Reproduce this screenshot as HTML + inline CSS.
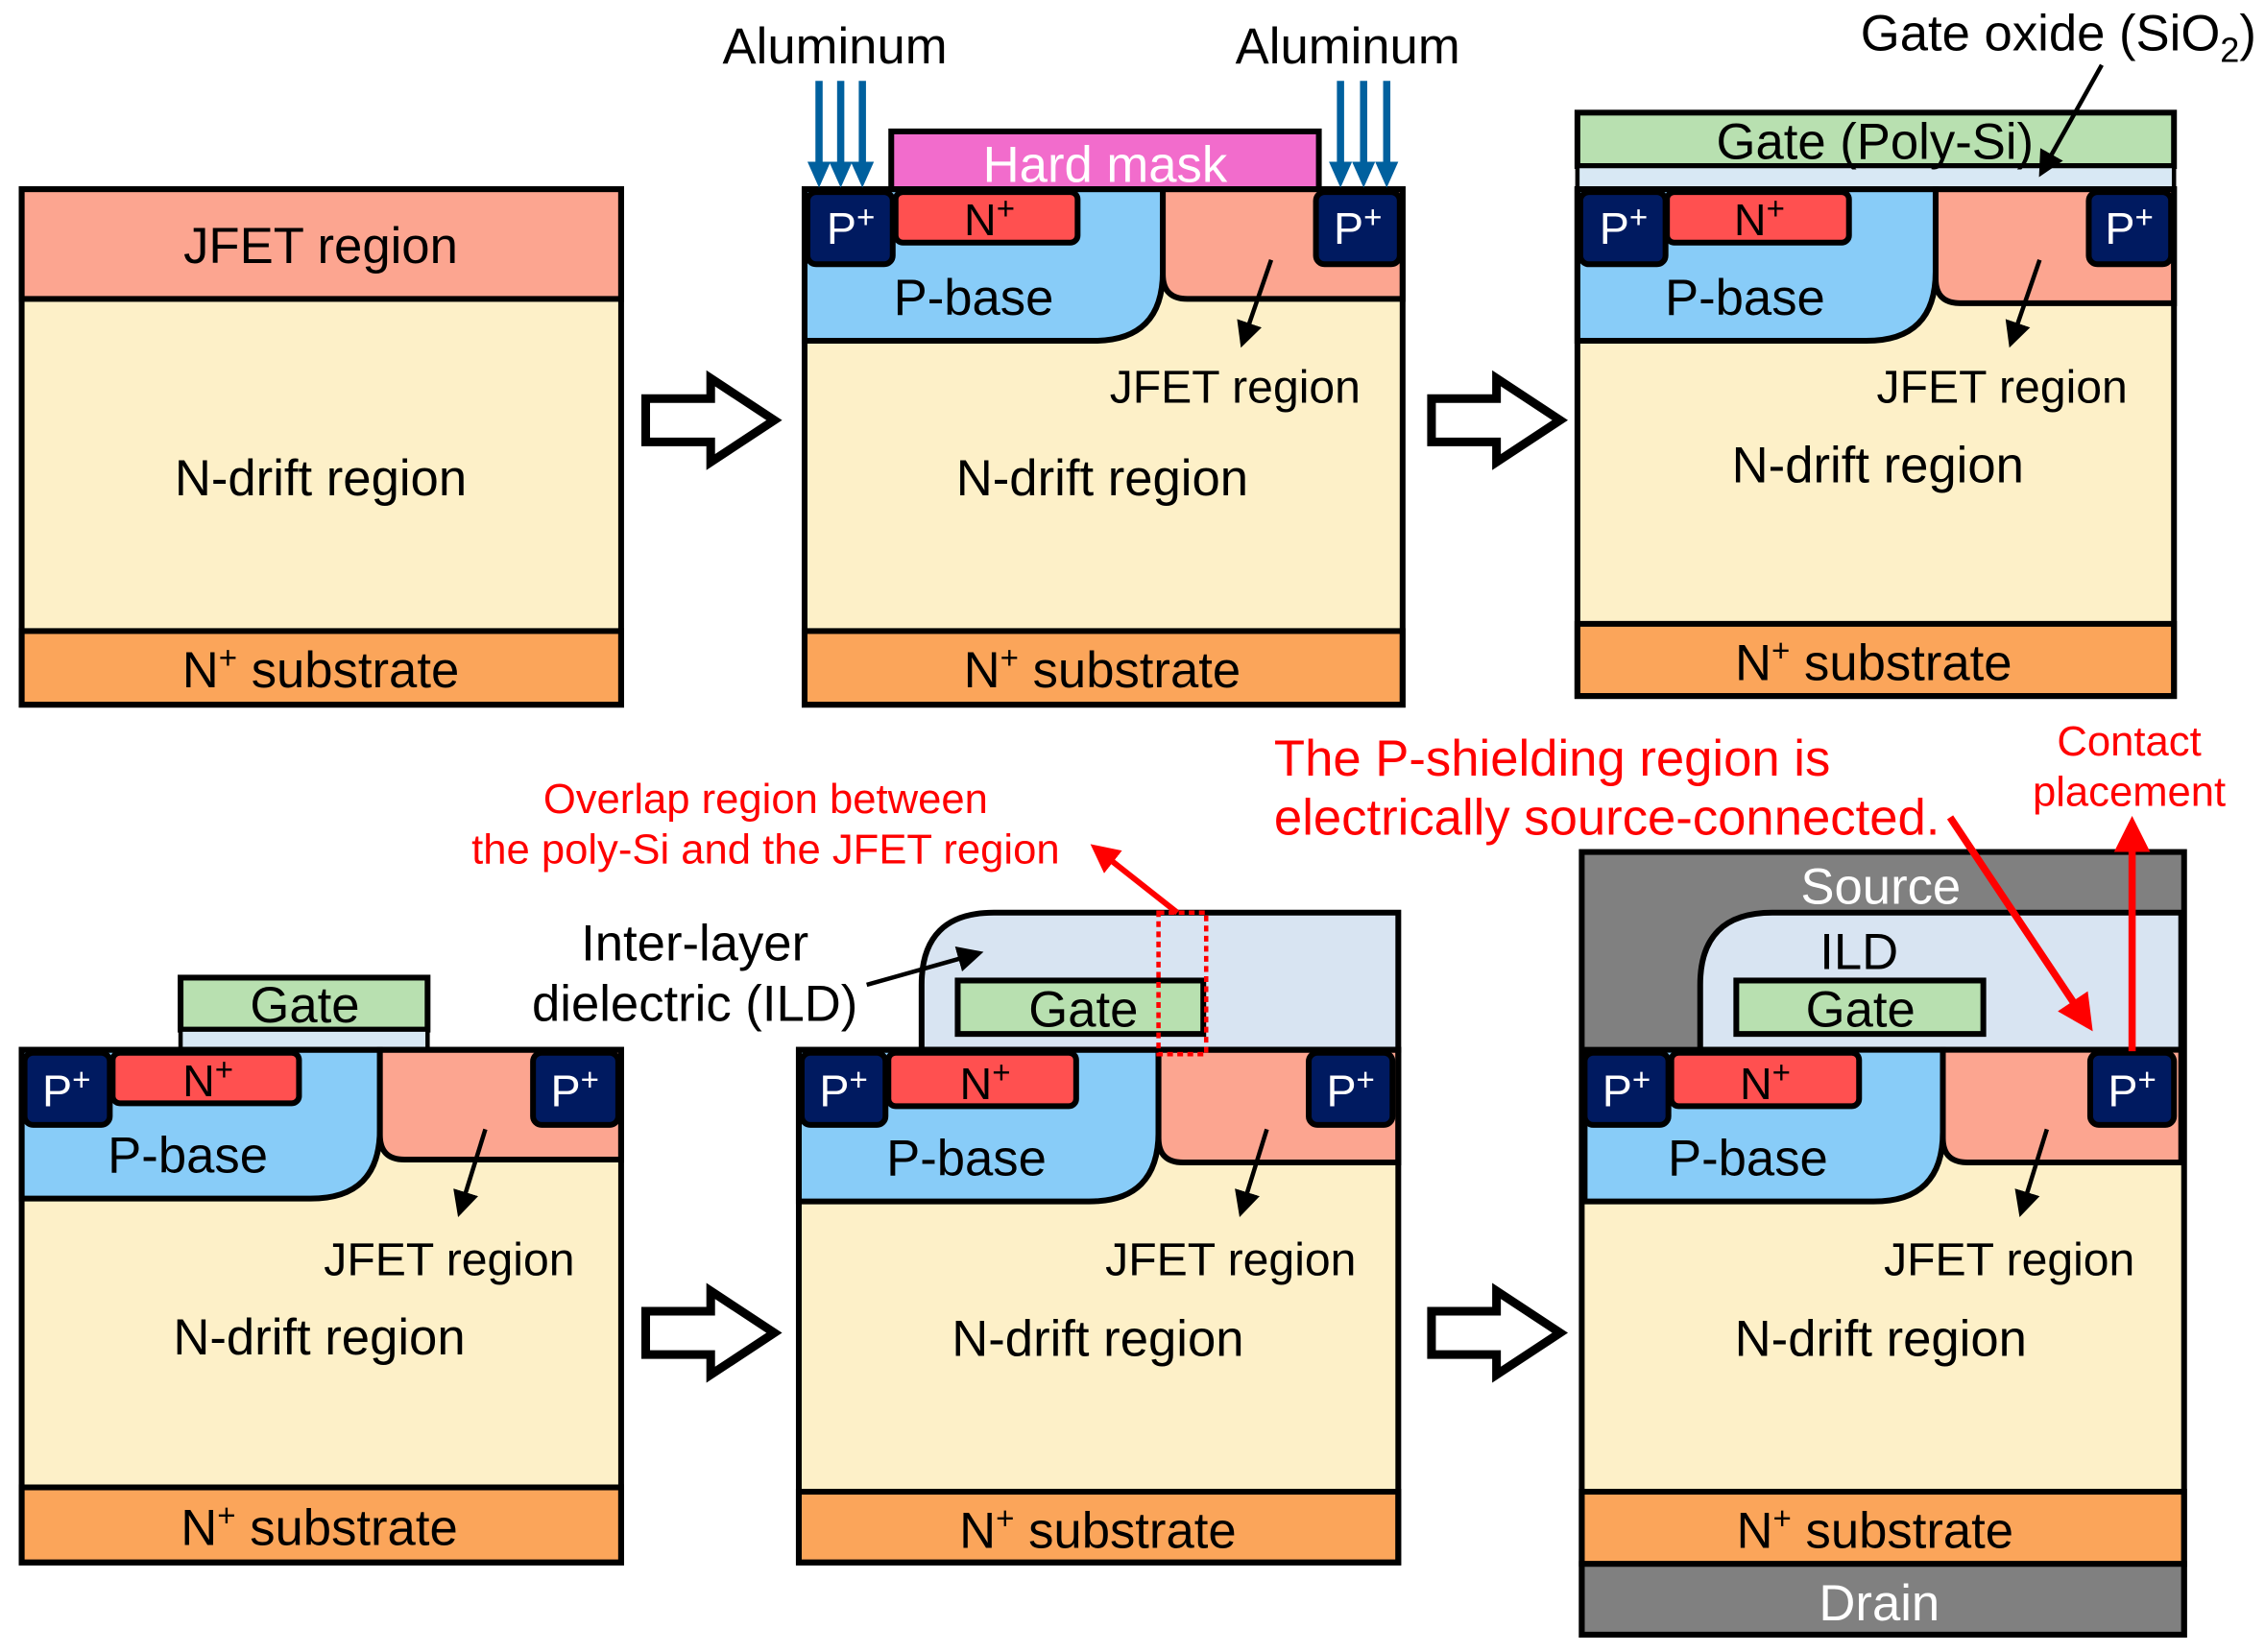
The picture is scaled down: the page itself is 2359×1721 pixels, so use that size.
<!DOCTYPE html>
<html><head><meta charset="utf-8"><style>
html,body{margin:0;padding:0;background:#fff;}
svg{display:block;}
text{font-family:"Liberation Sans",Arial,sans-serif;}
</style></head><body>
<svg width="2359" height="1721" viewBox="0 0 1568 1144" preserveAspectRatio="none" xmlns="http://www.w3.org/2000/svg">
<defs>
<marker id="ab" markerWidth="6" markerHeight="6" refX="5" refY="3" orient="auto" markerUnits="strokeWidth"><path d="M0,0 L6,3 L0,6 Z" fill="#000"/></marker>
<marker id="ar" markerWidth="5" markerHeight="5" refX="4" refY="2.5" orient="auto" markerUnits="strokeWidth"><path d="M0,0 L5,2.5 L0,5 Z" fill="#f00"/></marker>
</defs>
<rect width="1568" height="1144" fill="#fff"/>

<!-- Panel 1 -->
<rect x="15" y="131" width="415" height="357" fill="#fdf0c8"/>
<rect x="15" y="131" width="415" height="76" fill="#fca590" stroke="#000" stroke-width="4"/>
<rect x="15" y="437" width="415" height="51" fill="#fba55a" stroke="#000" stroke-width="4"/>
<rect x="15" y="131" width="415" height="357" fill="none" stroke="#000" stroke-width="4"/>
<text x="222" y="182" font-size="35" text-anchor="middle">JFET region</text>
<text x="222" y="343" font-size="35" text-anchor="middle">N-drift region</text>
<text x="222" y="476" font-size="35" text-anchor="middle">N<tspan dy="-13" font-size="22">+</tspan><tspan dy="13"> substrate</tspan></text>

<!-- hollow arrows -->
<g fill="#fff" stroke="#000" stroke-width="6" stroke-linejoin="miter">
<path d="M447,276 H492 V262 L536,291 L492,320 V306 H447 Z"/>
<path d="M991,276 H1036 V262 L1080,291 L1036,320 V306 H991 Z"/>
<path d="M447,908 H492 V894 L536,923 L492,952 V938 H447 Z"/>
<path d="M991,908 H1036 V894 L1080,923 L1036,952 V938 H991 Z"/>
</g>

<!-- Panel 2 -->
<rect x="617" y="91" width="296" height="40" fill="#f26ccc" stroke="#000" stroke-width="4"/>
<text x="765" y="126" font-size="35" fill="#fff" text-anchor="middle">Hard mask</text>
<rect x="557" y="131" width="414" height="357" fill="#fdf0c8"/>
<path d="M557,131 H805 V188 Q805,236 757,236 H557 Z" fill="#88ccf8" stroke="#000" stroke-width="4"/>
<path d="M805,131 H971 V207 H822 Q805,207 805,190 Z" fill="#fca590" stroke="#000" stroke-width="4"/>
<rect x="620" y="133" width="126" height="35" rx="5" fill="#ff5050" stroke="#000" stroke-width="4"/>
<rect x="559" y="133" width="59" height="50" rx="6" fill="#001a60" stroke="#000" stroke-width="4"/>
<rect x="911" y="133" width="58" height="50" rx="6" fill="#001a60" stroke="#000" stroke-width="4"/>
<rect x="557" y="437" width="414" height="51" fill="#fba55a" stroke="#000" stroke-width="4"/>
<rect x="557" y="131" width="414" height="357" fill="none" stroke="#000" stroke-width="4"/>
<text x="589" y="169" font-size="31" fill="#fff" text-anchor="middle">P<tspan dy="-11" font-size="22">+</tspan></text>
<text x="940" y="169" font-size="31" fill="#fff" text-anchor="middle">P<tspan dy="-11" font-size="22">+</tspan></text>
<text x="685" y="163" font-size="31" text-anchor="middle">N<tspan dy="-11" font-size="22">+</tspan></text>
<text x="674" y="218" font-size="35" text-anchor="middle">P-base</text>
<line x1="880" y1="180" x2="860" y2="238" stroke="#000" stroke-width="3" marker-end="url(#ab)"/>
<text x="855" y="279" font-size="32" text-anchor="middle">JFET region</text>
<text x="763" y="343" font-size="35" text-anchor="middle">N-drift region</text>
<text x="763" y="476" font-size="35" text-anchor="middle">N<tspan dy="-13" font-size="22">+</tspan><tspan dy="13"> substrate</tspan></text>
<g stroke="#00609e" stroke-width="5">
<line x1="567" y1="56" x2="567" y2="115"/><line x1="582" y1="56" x2="582" y2="115"/><line x1="597" y1="56" x2="597" y2="115"/>
<line x1="928" y1="56" x2="928" y2="115"/><line x1="944" y1="56" x2="944" y2="115"/><line x1="960" y1="56" x2="960" y2="115"/>
</g>
<g fill="#00609e">
<path d="M559,112 H575 L567,130 Z"/><path d="M574,112 H590 L582,130 Z"/><path d="M589,112 H605 L597,130 Z"/>
<path d="M920,112 H936 L928,130 Z"/><path d="M936,112 H952 L944,130 Z"/><path d="M952,112 H968 L960,130 Z"/>
</g>
<text x="578" y="44" font-size="35" text-anchor="middle">Aluminum</text>
<text x="933" y="44" font-size="35" text-anchor="middle">Aluminum</text>

<!-- Panel 3 -->
<rect x="1092" y="78" width="413" height="37" fill="#b8e0b0" stroke="#000" stroke-width="4"/>
<rect x="1092" y="115" width="413" height="16" fill="#d8e8f4" stroke="#000" stroke-width="3"/>
<text x="1298" y="110" font-size="35" text-anchor="middle">Gate (Poly-Si)</text>
<rect x="1092" y="131" width="413" height="351" fill="#fdf0c8"/>
<path d="M1092,131 H1340 V188 Q1340,236 1292,236 H1092 Z" fill="#88ccf8" stroke="#000" stroke-width="4"/>
<path d="M1340,131 H1505 V210 H1357 Q1340,210 1340,193 Z" fill="#fca590" stroke="#000" stroke-width="4"/>
<rect x="1154" y="133" width="126" height="35" rx="5" fill="#ff5050" stroke="#000" stroke-width="4"/>
<rect x="1094" y="133" width="59" height="50" rx="6" fill="#001a60" stroke="#000" stroke-width="4"/>
<rect x="1446" y="133" width="57" height="50" rx="6" fill="#001a60" stroke="#000" stroke-width="4"/>
<rect x="1092" y="432" width="413" height="50" fill="#fba55a" stroke="#000" stroke-width="4"/>
<rect x="1092" y="131" width="413" height="351" fill="none" stroke="#000" stroke-width="4"/>
<text x="1124" y="169" font-size="31" fill="#fff" text-anchor="middle">P<tspan dy="-11" font-size="22">+</tspan></text>
<text x="1474" y="169" font-size="31" fill="#fff" text-anchor="middle">P<tspan dy="-11" font-size="22">+</tspan></text>
<text x="1218" y="163" font-size="31" text-anchor="middle">N<tspan dy="-11" font-size="22">+</tspan></text>
<text x="1208" y="218" font-size="35" text-anchor="middle">P-base</text>
<line x1="1412" y1="180" x2="1392" y2="238" stroke="#000" stroke-width="3" marker-end="url(#ab)"/>
<text x="1386" y="279" font-size="32" text-anchor="middle">JFET region</text>
<text x="1300" y="334" font-size="35" text-anchor="middle">N-drift region</text>
<text x="1297" y="471" font-size="35" text-anchor="middle">N<tspan dy="-13" font-size="22">+</tspan><tspan dy="13"> substrate</tspan></text>
<line x1="1455" y1="45" x2="1413" y2="120" stroke="#000" stroke-width="3" marker-end="url(#ab)"/>
<text x="1425" y="35" font-size="35" text-anchor="middle">Gate oxide (SiO<tspan dy="8" font-size="24">2</tspan><tspan dy="-8">)</tspan></text>

<!-- Panel 4 -->
<rect x="125" y="677" width="171" height="36" fill="#b8e0b0" stroke="#000" stroke-width="4"/>
<rect x="125" y="713" width="171" height="14" fill="#d8e8f4" stroke="#000" stroke-width="3"/>
<text x="211" y="708" font-size="35" text-anchor="middle">Gate</text>
<rect x="15" y="727" width="415" height="355" fill="#fdf0c8"/>
<path d="M15,727 H263 V782 Q263,830 215,830 H15 Z" fill="#88ccf8" stroke="#000" stroke-width="4"/>
<path d="M263,727 H430 V803 H280 Q263,803 263,786 Z" fill="#fca590" stroke="#000" stroke-width="4"/>
<rect x="78" y="729" width="129" height="35" rx="5" fill="#ff5050" stroke="#000" stroke-width="4"/>
<rect x="17" y="729" width="59" height="50" rx="6" fill="#001a60" stroke="#000" stroke-width="4"/>
<rect x="369" y="729" width="59" height="50" rx="6" fill="#001a60" stroke="#000" stroke-width="4"/>
<rect x="15" y="1030" width="415" height="52" fill="#fba55a" stroke="#000" stroke-width="4"/>
<rect x="15" y="727" width="415" height="355" fill="none" stroke="#000" stroke-width="4"/>
<text x="46" y="766" font-size="31" fill="#fff" text-anchor="middle">P<tspan dy="-11" font-size="22">+</tspan></text>
<text x="398" y="766" font-size="31" fill="#fff" text-anchor="middle">P<tspan dy="-11" font-size="22">+</tspan></text>
<text x="144" y="759" font-size="31" text-anchor="middle">N<tspan dy="-11" font-size="22">+</tspan></text>
<text x="130" y="812" font-size="35" text-anchor="middle">P-base</text>
<line x1="336" y1="782" x2="318" y2="840" stroke="#000" stroke-width="3" marker-end="url(#ab)"/>
<text x="311" y="883" font-size="32" text-anchor="middle">JFET region</text>
<text x="221" y="938" font-size="35" text-anchor="middle">N-drift region</text>
<text x="221" y="1070" font-size="35" text-anchor="middle">N<tspan dy="-13" font-size="22">+</tspan><tspan dy="13"> substrate</tspan></text>

<!-- Panel 5 -->
<path d="M638,727 V682 Q638,632 688,632 H968 V727 Z" fill="#d8e4f2" stroke="#000" stroke-width="4"/>
<rect x="663" y="679" width="170" height="37" fill="#b8e0b0" stroke="#000" stroke-width="4"/>
<text x="750" y="711" font-size="35" text-anchor="middle">Gate</text>
<rect x="553" y="727" width="415" height="355" fill="#fdf0c8"/>
<path d="M553,727 H802 V784 Q802,832 754,832 H553 Z" fill="#88ccf8" stroke="#000" stroke-width="4"/>
<path d="M802,727 H968 V805 H819 Q802,805 802,788 Z" fill="#fca590" stroke="#000" stroke-width="4"/>
<rect x="615" y="729" width="130" height="37" rx="5" fill="#ff5050" stroke="#000" stroke-width="4"/>
<rect x="555" y="729" width="58" height="50" rx="6" fill="#001a60" stroke="#000" stroke-width="4"/>
<rect x="906" y="729" width="58" height="50" rx="6" fill="#001a60" stroke="#000" stroke-width="4"/>
<rect x="553" y="1033" width="415" height="49" fill="#fba55a" stroke="#000" stroke-width="4"/>
<rect x="553" y="727" width="415" height="355" fill="none" stroke="#000" stroke-width="4"/>
<rect x="802" y="632" width="33" height="98" fill="none" stroke="#f00" stroke-width="3" stroke-dasharray="4,3"/>
<text x="584" y="766" font-size="31" fill="#fff" text-anchor="middle">P<tspan dy="-11" font-size="22">+</tspan></text>
<text x="935" y="766" font-size="31" fill="#fff" text-anchor="middle">P<tspan dy="-11" font-size="22">+</tspan></text>
<text x="682" y="761" font-size="31" text-anchor="middle">N<tspan dy="-11" font-size="22">+</tspan></text>
<text x="669" y="814" font-size="35" text-anchor="middle">P-base</text>
<line x1="877" y1="782" x2="859" y2="840" stroke="#000" stroke-width="3" marker-end="url(#ab)"/>
<text x="852" y="883" font-size="32" text-anchor="middle">JFET region</text>
<text x="760" y="939" font-size="35" text-anchor="middle">N-drift region</text>
<text x="760" y="1072" font-size="35" text-anchor="middle">N<tspan dy="-13" font-size="22">+</tspan><tspan dy="13"> substrate</tspan></text>
<line x1="815" y1="632" x2="758" y2="587" stroke="#f00" stroke-width="4" marker-end="url(#ar)"/>
<text x="530" y="563" font-size="29" fill="#f00" text-anchor="middle">Overlap region between</text>
<text x="530" y="598" font-size="29" fill="#f00" text-anchor="middle">the poly-Si and the JFET region</text>
<text x="481" y="665" font-size="35" text-anchor="middle">Inter-layer</text>
<text x="481" y="707" font-size="35" text-anchor="middle">dielectric (ILD)</text>
<line x1="600" y1="682" x2="678" y2="660" stroke="#000" stroke-width="3" marker-end="url(#ab)"/>

<!-- Panel 6 -->
<rect x="1095" y="590" width="417" height="137" fill="#808080"/>
<path d="M1177,727 V682 Q1177,632 1227,632 H1510 V727 Z" fill="#d8e4f2" stroke="#000" stroke-width="4"/>
<rect x="1202" y="679" width="171" height="37" fill="#b8e0b0" stroke="#000" stroke-width="4"/>
<text x="1288" y="711" font-size="35" text-anchor="middle">Gate</text>
<text x="1287" y="671" font-size="35" text-anchor="middle">ILD</text>
<text x="1302" y="626" font-size="35" fill="#fff" text-anchor="middle">Source</text>
<rect x="1095" y="727" width="417" height="356" fill="#fdf0c8"/>
<path d="M1097,727 H1345 V784 Q1345,832 1297,832 H1097 Z" fill="#88ccf8" stroke="#000" stroke-width="4"/>
<path d="M1345,727 H1510 V805 H1362 Q1345,805 1345,788 Z" fill="#fca590" stroke="#000" stroke-width="4"/>
<rect x="1157" y="729" width="130" height="37" rx="5" fill="#ff5050" stroke="#000" stroke-width="4"/>
<rect x="1097" y="729" width="58" height="50" rx="6" fill="#001a60" stroke="#000" stroke-width="4"/>
<rect x="1447" y="729" width="58" height="50" rx="6" fill="#001a60" stroke="#000" stroke-width="4"/>
<rect x="1095" y="1033" width="417" height="50" fill="#fba55a" stroke="#000" stroke-width="4"/>
<rect x="1095" y="1083" width="417" height="49" fill="#808080" stroke="#000" stroke-width="4"/>
<rect x="1095" y="590" width="417" height="542" fill="none" stroke="#000" stroke-width="4"/>
<text x="1126" y="766" font-size="31" fill="#fff" text-anchor="middle">P<tspan dy="-11" font-size="22">+</tspan></text>
<text x="1476" y="766" font-size="31" fill="#fff" text-anchor="middle">P<tspan dy="-11" font-size="22">+</tspan></text>
<text x="1222" y="761" font-size="31" text-anchor="middle">N<tspan dy="-11" font-size="22">+</tspan></text>
<text x="1210" y="814" font-size="35" text-anchor="middle">P-base</text>
<line x1="1417" y1="782" x2="1399" y2="840" stroke="#000" stroke-width="3" marker-end="url(#ab)"/>
<text x="1391" y="883" font-size="32" text-anchor="middle">JFET region</text>
<text x="1302" y="939" font-size="35" text-anchor="middle">N-drift region</text>
<text x="1298" y="1072" font-size="35" text-anchor="middle">N<tspan dy="-13" font-size="22">+</tspan><tspan dy="13"> substrate</tspan></text>
<text x="1301" y="1122" font-size="35" fill="#fff" text-anchor="middle">Drain</text>
<text x="882" y="537" font-size="35" fill="#f00">The P-shielding region is</text>
<text x="882" y="578" font-size="35" fill="#f00">electrically source-connected.</text>
<line x1="1350" y1="566" x2="1446" y2="710" stroke="#f00" stroke-width="5" marker-end="url(#ar)"/>
<text x="1474" y="523" font-size="29" fill="#f00" text-anchor="middle">Contact</text>
<text x="1474" y="558" font-size="29" fill="#f00" text-anchor="middle">placement</text>
<line x1="1476" y1="728" x2="1476" y2="570" stroke="#f00" stroke-width="5" marker-end="url(#ar)"/>
</svg>
</body></html>
